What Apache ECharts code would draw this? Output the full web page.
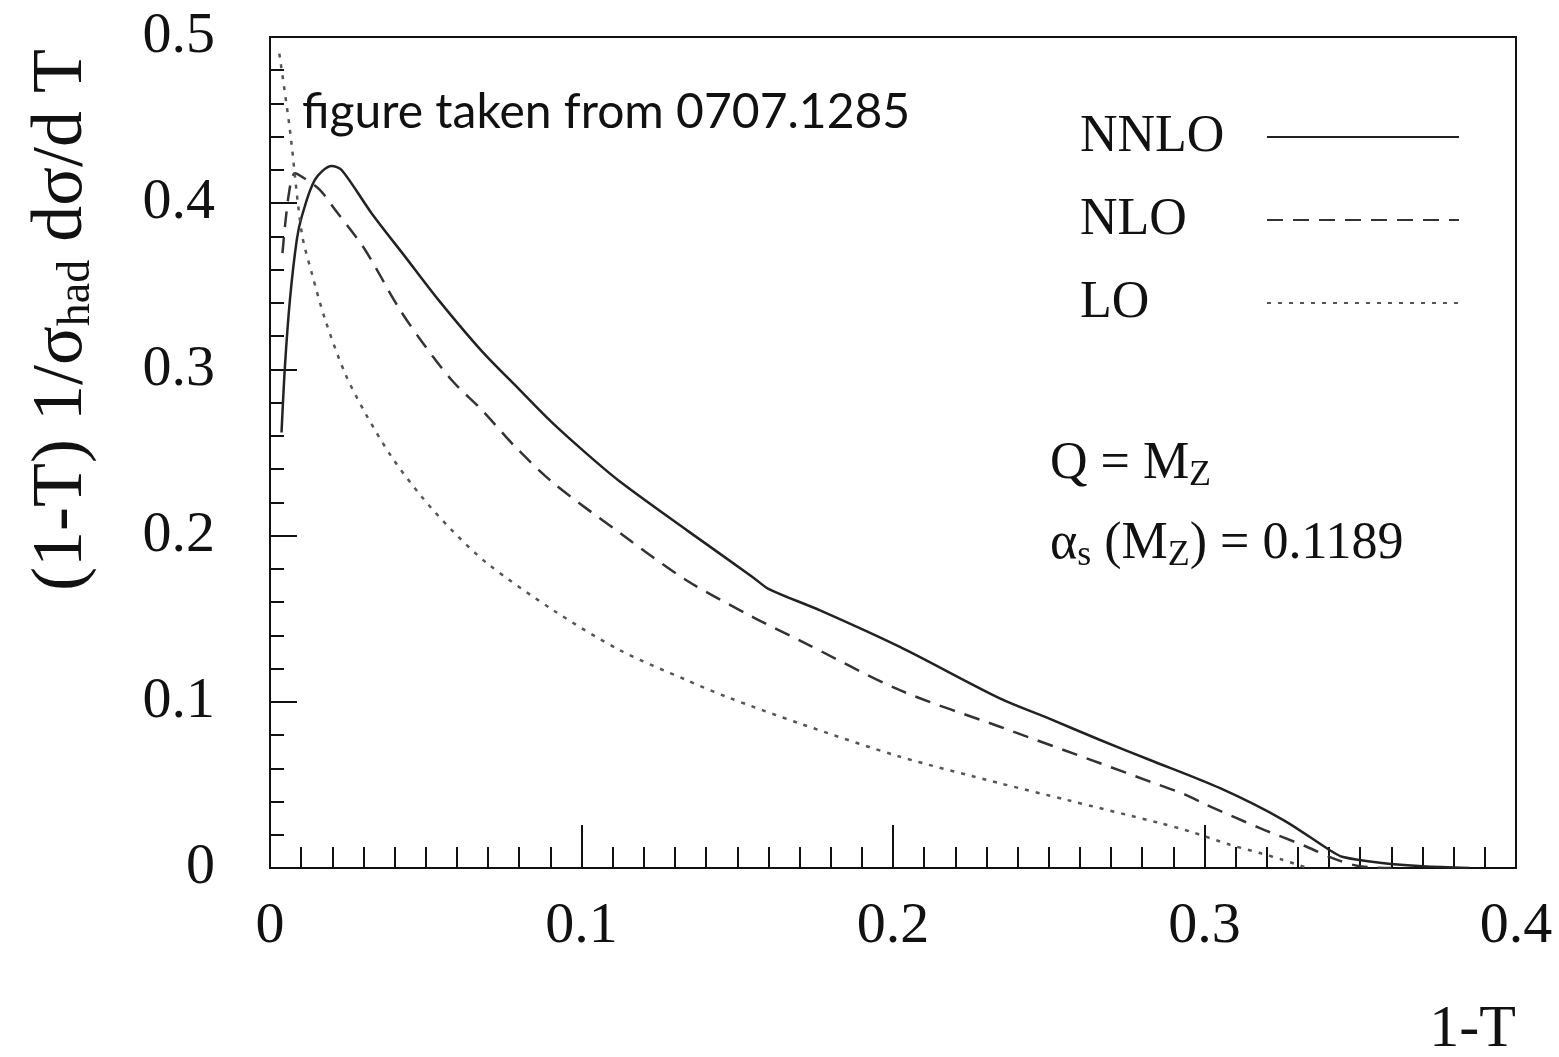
<!DOCTYPE html>
<html><head><meta charset="utf-8">
<script src="https://cdn.jsdelivr.net/npm/echarts@6/dist/echarts.min.js"></script>
<style>html,body{margin:0;padding:0;background:#fff}#c{width:1559px;height:1057px}</style>
</head><body><div id="c"></div>
<script>
// Data: [1-T, (1-T) 1/sigma dsigma/dT]
var nnlo = [[0.0037,0.262],[0.0048,0.302],[0.0064,0.342],[0.0086,0.378],[0.0102,0.392],[0.0144,0.414],[0.0198,0.4224],[0.023,0.42],[0.0326,0.394],[0.0433,0.368],[0.054,0.342],[0.068,0.311],[0.08,0.288],[0.09,0.269],[0.1,0.252],[0.112,0.233],[0.134,0.203],[0.155,0.175],[0.16,0.168],[0.1766,0.155],[0.2022,0.133],[0.2343,0.102],[0.25,0.09],[0.2665,0.077],[0.2825,0.065],[0.305,0.048],[0.3252,0.029],[0.340,0.011],[0.3445,0.0066],[0.357,0.003],[0.37,0.001],[0.385,0.0]];
var nlo = [[0.004,0.37],[0.006,0.405],[0.008,0.418],[0.011,0.415],[0.016,0.408],[0.0209,0.396],[0.0305,0.372],[0.041,0.338],[0.0476,0.3197],[0.0583,0.2936],[0.068,0.2756],[0.0787,0.2535],[0.091,0.2316],[0.1124,0.2015],[0.1338,0.173],[0.155,0.151],[0.170,0.137],[0.2022,0.107],[0.2343,0.085],[0.2665,0.063],[0.2825,0.052],[0.294,0.044],[0.3007,0.038],[0.3178,0.024],[0.3328,0.0128],[0.3424,0.005],[0.35,0.001],[0.36,0.0]];
var lo = [[0.003,0.49],[0.0064,0.444],[0.0102,0.382],[0.0134,0.358],[0.0177,0.33],[0.024,0.298],[0.0305,0.274],[0.039,0.2475],[0.0487,0.2234],[0.0583,0.2034],[0.0696,0.1835],[0.091,0.155],[0.1124,0.131],[0.1338,0.113],[0.1466,0.103],[0.170,0.087],[0.2022,0.067],[0.2343,0.051],[0.2557,0.041],[0.2857,0.027],[0.2953,0.022],[0.3082,0.014],[0.3178,0.009],[0.325,0.005],[0.333,0.0]];
var seriesNames = ['NNLO','NLO','LO'];
var xTicks = [0, 0.1, 0.2, 0.3, 0.4];
var yTicks = [0, 0.1, 0.2, 0.3, 0.4, 0.5];

var serif = "'Liberation Serif','DejaVu Serif',serif";
var chart = echarts.init(document.getElementById('c'), null, {renderer:'canvas'});
chart.setOption({
  backgroundColor:'#fff',
  animation:false,
  grid:{left:270, right:43, top:37, bottom:189, show:true, borderColor:'#111', borderWidth:2, backgroundColor:'transparent'},
  xAxis:{type:'value', min:xTicks[0], max:xTicks[xTicks.length-1], interval:0.1,
    axisLine:{lineStyle:{color:'#111', width:2}},
    axisTick:{inside:true, length:43, lineStyle:{color:'#111', width:2}},
    minorTick:{show:true, splitNumber:10, length:21, lineStyle:{color:'#111', width:2}},
    splitLine:{show:false},
    axisLabel:{margin:30, fontFamily:serif, fontSize:58, color:'#111',
      formatter:function(v){return v===0?'0':String(+v.toFixed(1));}}
  },
  yAxis:{type:'value', min:yTicks[0], max:yTicks[yTicks.length-1], interval:0.1,
    axisLine:{lineStyle:{color:'#111', width:2}},
    axisTick:{inside:true, length:27, lineStyle:{color:'#111', width:2}},
    minorTick:{show:true, splitNumber:5, length:14, lineStyle:{color:'#111', width:2}},
    splitLine:{show:false},
    axisLabel:{margin:55, fontFamily:serif, fontSize:58, color:'#111',
      formatter:function(v){return v===0?'0':String(+v.toFixed(1));}}
  },
  legend:{orient:'vertical', left:1075, top:106, itemGap:31, align:'right',
    itemWidth:192, itemHeight:20, itemStyle:{opacity:0},
    formatter:function(n){return '{a|'+n+'}';},
    textStyle:{fontFamily:serif, fontSize:52, color:'#111',
      rich:{a:{fontFamily:serif, fontSize:52, color:'#111', width:182, align:'left'}}},
    data:seriesNames},
  series:[
    {name:seriesNames[0], type:'line', data:nnlo, showSymbol:false, smooth:0.3, clip:true,
      lineStyle:{color:'#222', width:2.5, type:'solid'}, itemStyle:{color:'#222'}},
    {name:seriesNames[1], type:'line', data:nlo, showSymbol:false, smooth:0.3, clip:true,
      lineStyle:{color:'#333', width:2.5, type:[16,10]}, itemStyle:{color:'#333'}},
    {name:seriesNames[2], type:'line', data:lo, showSymbol:false, smooth:0.3, clip:true,
      lineStyle:{color:'#555', width:2.5, type:[4,7]}, itemStyle:{color:'#555'}}
  ],
  graphic:[
    {type:'text', left:302, top:89, style:{text:'figure taken from 0707.1285', font:"48px Lato, 'Open Sans', sans-serif", fill:'#111'}},
    {type:'text', x:62, y:320, rotation:Math.PI/2, style:{
      text:'(1-T) 1/σ{s|had} dσ/d T', align:'center', verticalAlign:'middle', fill:'#111',
      font:'72px '+serif,
      rich:{s:{fontSize:46, fontFamily:serif, fill:'#111', padding:[30,0,0,0]}}
    }},
    {type:'text', left:1050, top:438, style:{
      text:'Q = M{s|Z}', font:'52px '+serif, fill:'#111',
      rich:{s:{fontSize:36, fontFamily:serif, fill:'#111', padding:[24,0,0,0]}}
    }},
    {type:'text', left:1050, top:518, style:{
      text:'α{s|s} (M{s|Z}) = 0.1189', font:'52px '+serif, fill:'#111',
      rich:{s:{fontSize:36, fontFamily:serif, fill:'#111', padding:[24,0,0,0]}}
    }},
    {type:'text', right:43, top:1000, style:{text:'1-T', font:'60px '+serif, fill:'#111'}}
  ]
});
</script></body></html>
